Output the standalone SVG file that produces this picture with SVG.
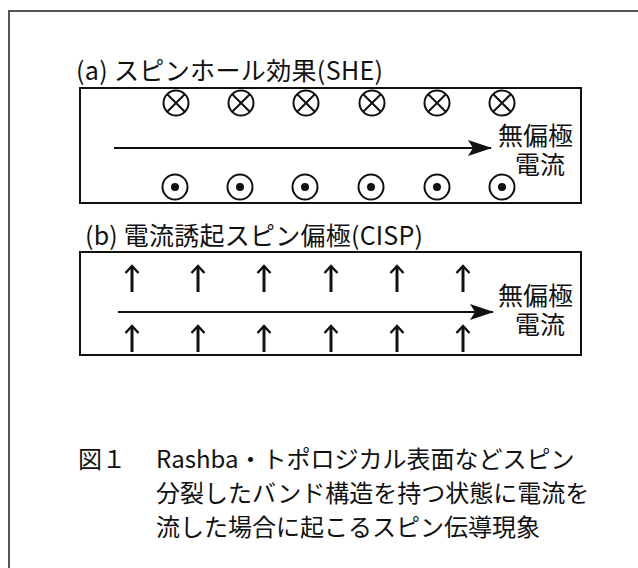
<svg xmlns="http://www.w3.org/2000/svg" width="638" height="568" viewBox="0 0 638 568">
<defs>
<style>
.t{font-family:"Noto Sans CJK JP","Noto Sans",sans-serif;fill:#111;}
.lbl{font-size:25px;}
.cur{font-size:25px;}
.cap{font-size:24px;}
.box{fill:none;stroke:#111;stroke-width:2;}
.ln{stroke:#111;stroke-width:2;fill:none;}
.sym{fill:none;stroke:#111;stroke-width:2;}
.up{fill:none;stroke:#111;stroke-width:3;stroke-linecap:butt;}
</style>
<marker id="ah" viewBox="0 0 24 16" refX="23" refY="8" markerWidth="24" markerHeight="16" markerUnits="userSpaceOnUse" orient="auto">
<path d="M0,0 L24,8 L0,16 L5,8 Z" fill="#111"/>
</marker>
<g id="cross"><circle cx="0" cy="0" r="12.5" class="sym"/><path d="M-8.8,-8.8 L8.8,8.8 M-8.8,8.8 L8.8,-8.8" class="sym"/></g>
<g id="dot"><circle cx="0" cy="0" r="12.5" class="sym"/><circle cx="0" cy="0" r="4" fill="#111"/></g>
<g id="uparr"><path d="M0,1 L0,27" class="up"/><path d="M-6.5,8 L0,1 L6.5,8" fill="none" stroke="#111" stroke-width="2.4"/></g>
</defs>
<rect x="0" y="0" width="638" height="568" fill="#fff"/>
<rect id="frame" x="9" y="11" width="640" height="570" fill="none" stroke="#555" stroke-width="2"/>

<g id="panel-a">
<text class="t lbl" x="76" y="80" textLength="307">(a) スピンホール効果(SHE)</text>
<rect class="box" x="80" y="88" width="501" height="115"/>
<g id="a-in">
<use href="#cross" x="176" y="103"/><use href="#cross" x="241" y="103"/><use href="#cross" x="306" y="103"/>
<use href="#cross" x="372" y="103"/><use href="#cross" x="437" y="103"/><use href="#cross" x="502" y="103"/>
</g>
<g id="a-out">
<use href="#dot" x="175" y="187"/><use href="#dot" x="240" y="187"/><use href="#dot" x="305" y="187"/>
<use href="#dot" x="371" y="187"/><use href="#dot" x="437" y="187"/><use href="#dot" x="502" y="187"/>
</g>
<text class="t cur"><tspan x="498" y="145">無偏極</tspan><tspan x="515" y="174">電流</tspan></text>
</g>

<g id="panel-b">
<text class="t lbl" x="85" y="245" textLength="338">(b) 電流誘起スピン偏極(CISP)</text>
<rect class="box" x="80" y="252" width="501" height="103"/>
<g id="b-top">
<use href="#uparr" x="132" y="265"/><use href="#uparr" x="198" y="265"/><use href="#uparr" x="264" y="265"/>
<use href="#uparr" x="331" y="265"/><use href="#uparr" x="397" y="265"/><use href="#uparr" x="463" y="265"/>
</g>
<g id="b-bot">
<use href="#uparr" x="132" y="325"/><use href="#uparr" x="198" y="325"/><use href="#uparr" x="264" y="325"/>
<use href="#uparr" x="331" y="325"/><use href="#uparr" x="397" y="325"/><use href="#uparr" x="463" y="325"/>
</g>
<text class="t cur"><tspan x="498" y="305">無偏極</tspan><tspan x="515" y="334">電流</tspan></text>
</g>

<g id="connectors">
<line class="ln" x1="114" y1="148" x2="491" y2="148" marker-end="url(#ah)"/>
<line class="ln" x1="118" y1="312" x2="493" y2="312" marker-end="url(#ah)"/>
</g>

<g id="caption">
<text class="t cap" x="78" y="468">図１</text>
<text class="t cap" x="156" y="468">Rashba・トポロジカル表面などスピン</text>
<text class="t cap" x="156" y="502">分裂したバンド構造を持つ状態に電流を</text>
<text class="t cap" x="156" y="536">流した場合に起こるスピン伝導現象</text>
</g>
</svg>
